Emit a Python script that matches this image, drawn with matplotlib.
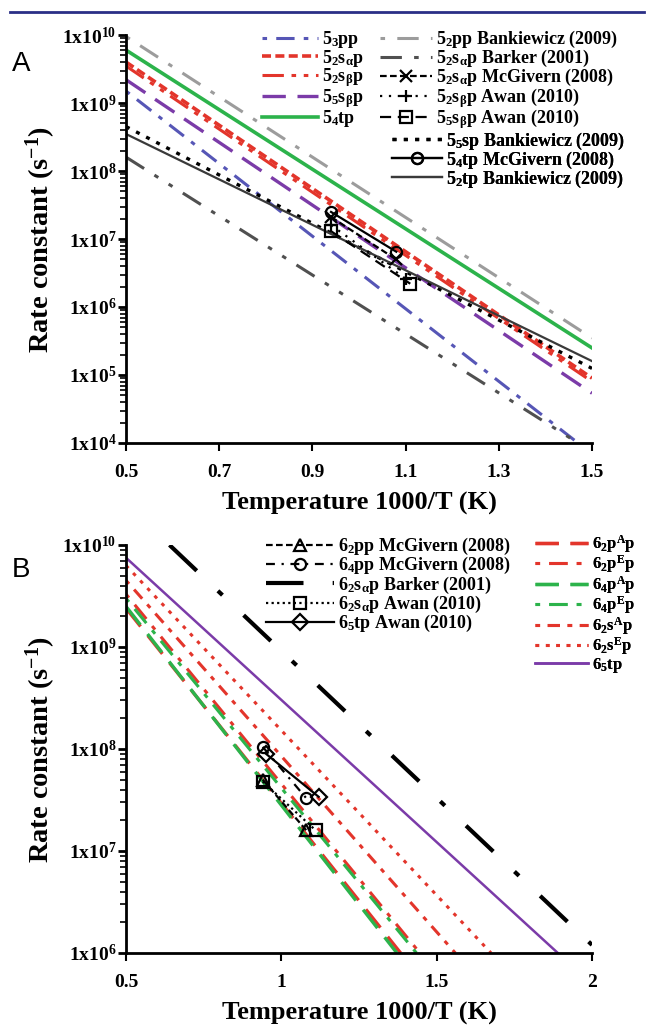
import matplotlib
matplotlib.use("Agg")
import matplotlib.pyplot as plt
from matplotlib.lines import Line2D
from matplotlib.ticker import LogLocator, FuncFormatter, NullFormatter
import numpy as np

plt.rcParams['font.family'] = ['Liberation Serif', 'DejaVu Serif']
plt.rcParams['font.weight'] = 'bold'
plt.rcParams['mathtext.fontset'] = 'custom'
plt.rcParams['mathtext.rm'] = 'Liberation Serif:bold'
plt.rcParams['mathtext.it'] = 'Liberation Serif:bold:italic'
plt.rcParams['mathtext.bf'] = 'Liberation Serif:bold'
plt.rcParams['mathtext.default'] = 'rm'

# ---- panel A : theory lines (x = 1000/T, k in s^-1), endpoints
a_lines = {
    '5$_3$pp':            ([0.5, 1.47], [1.5e9, 1e4]),
    '5$_2$s$_\\alpha$p':   ([0.5, 1.5], [4.0e9, 9.0e4]),
    '5$_2$s$_\\beta$p':    ([0.5, 1.5], [3.5e9, 8.0e4]),
    '5$_5$s$_\\beta$p':    ([0.5, 1.5], [2.2e9, 5.4e4]),
    '5$_4$tp':             ([0.5, 1.5], [6.0e9, 2.5e5]),
}
a_lit_lines = {
    '5$_2$pp Bankiewicz (2009)':         ([0.5, 1.5], [9.5e9, 3.5e5]),
    '5$_2$s$_\\alpha$p Barker (2001)':    ([0.5, 1.47], [1.6e8, 1e4]),
    '5$_5$sp Bankiewicz (2009)':          ([0.5, 1.5], [4.5e8, 1.25e5]),
    '5$_2$tp Bankiewicz (2009)':          ([0.5, 1.5], [3.5e8, 1.6e5]),
}
a_points = {
    '5$_2$s$_\\alpha$p McGivern (2008)': ([0.94, 1.08], [2.1e7, 5.0e6]),
    '5$_2$s$_\\beta$p Awan (2010)':      ([0.94, 1.10], [1.6e7, 2.6e6]),
    '5$_5$s$_\\beta$p Awan (2010)':      ([0.94, 1.11], [1.3e7, 2.2e6]),
    '5$_4$tp McGivern (2008)':           ([0.94, 1.08], [2.5e7, 6.5e6]),
}

# ---- panel B
b_lines = {
    '6$_2$p$^A$p': ([0.5, 1.384], [2.4e9, 1e6]),
    '6$_2$p$^E$p': ([0.5, 1.446], [3.3e9, 1e6]),
    '6$_4$p$^A$p': ([0.5, 1.372], [2.5e9, 1e6]),
    '6$_4$p$^E$p': ([0.5, 1.435], [3.0e9, 1e6]),
    '6$_2$s$^A$p': ([0.5, 1.56], [4.5e9, 1e6]),
    '6$_2$s$^E$p': ([0.5, 1.675], [6.3e9, 1e6]),
    '6$_5$tp':     ([0.5, 1.89], [7.5e9, 1e6]),
}
b_barker = ([0.64, 2.0], [1e10, 1.2e6])
b_points = {
    '6$_2$pp McGivern (2008)':       ([0.94, 1.08], [5.0e7, 1.6e7]),
    '6$_4$pp McGivern (2008)':       ([0.94, 1.08], [1.05e8, 3.3e7]),
    '6$_2$s$_\\alpha$p Awan (2010)':  ([0.94, 1.11], [4.8e7, 1.6e7]),
    '6$_5$tp Awan (2010)':           ([0.95, 1.12], [9.0e7, 3.4e7]),
}

RED = '#e3352b'
GREEN = '#2cb34b'
PURPLE = '#7b3ba8'
BLUE = '#5656b6'

a_styles = {
    '5$_3$pp':          dict(color=BLUE, lw=2.2, dashes=(1.5, 3, 6, 3)),
    '5$_2$s$_\\alpha$p': dict(color=RED, lw=2.6, dashes=(2.5, 1.2)),
    '5$_2$s$_\\beta$p':  dict(color=RED, lw=2.2, dashes=(7, 2.5, 1.5, 2.5, 1.5, 2.5)),
    '5$_5$s$_\\beta$p':  dict(color=PURPLE, lw=2.4, dashes=(7, 3.5)),
    '5$_4$tp':           dict(color=GREEN, lw=2.6),
}
a_lit_styles = {
    '5$_2$pp Bankiewicz (2009)':      dict(color='#9c9c9c', lw=2.2, dashes=(1.5, 4, 7, 4)),
    '5$_2$s$_\\alpha$p Barker (2001)': dict(color='#505050', lw=2.2, dashes=(7, 4, 1.5, 4, 1.5, 4)),
    '5$_5$sp Bankiewicz (2009)':       dict(color='black', lw=2.4, dashes=(1.2, 2.2)),
    '5$_2$tp Bankiewicz (2009)':       dict(color='#3a3a3a', lw=1.6),
}
a_point_styles = {
    '5$_2$s$_\\alpha$p McGivern (2008)': dict(marker='x', ls=(0, (3, 1.5))),
    '5$_2$s$_\\beta$p Awan (2010)':      dict(marker='+', ls=(0, (1, 3))),
    '5$_5$s$_\\beta$p Awan (2010)':      dict(marker='s', ls=(0, (5, 3))),
    '5$_4$tp McGivern (2008)':           dict(marker='o', ls='-'),
}
b_styles = {
    '6$_2$p$^A$p': dict(color=RED, lw=2.4, dashes=(7, 3.5)),
    '6$_2$p$^E$p': dict(color=RED, lw=2.2, dashes=(1.5, 3, 6, 3)),
    '6$_4$p$^A$p': dict(color=GREEN, lw=2.4, dashes=(7, 3.5)),
    '6$_4$p$^E$p': dict(color=GREEN, lw=2.2, dashes=(1.5, 3, 6, 3)),
    '6$_2$s$^A$p': dict(color=RED, lw=2.2, dashes=(1.5, 2.5, 4, 2.5)),
    '6$_2$s$^E$p': dict(color=RED, lw=2.2, dashes=(1.2, 2.2)),
    '6$_5$tp':     dict(color=PURPLE, lw=1.8),
}
b_point_styles = {
    '6$_2$pp McGivern (2008)':      dict(marker='^', ls=(0, (3, 1.5))),
    '6$_4$pp McGivern (2008)':      dict(marker='o', ls=(0, (4, 3, 1, 3))),
    '6$_2$s$_\\alpha$p Awan (2010)': dict(marker='s', ls=(0, (1, 1.5))),
    '6$_5$tp Awan (2010)':          dict(marker='D', ls='-'),
}

fig = plt.figure(figsize=(6.54, 10.35), dpi=100)
W, H = 654, 1035


def px_axes(left, top, right, bottom):
    return fig.add_axes([left / W, 1 - bottom / H, (right - left) / W, (bottom - top) / H])


def style_axes(ax, ymin, ymax, xticks, xlabels):
    ax.set_yscale('log')
    ax.set_ylim(ymin, ymax)
    ax.set_xlim(xticks[0], xticks[-1])
    for s in ['top', 'right']:
        ax.spines[s].set_visible(False)
    for s in ['left', 'bottom']:
        ax.spines[s].set_linewidth(2)
    ax.set_xticks(xticks)
    ax.set_xticklabels(xlabels)
    ax.yaxis.set_major_locator(LogLocator(base=10, numticks=20))
    ax.yaxis.set_minor_locator(LogLocator(base=10, subs=np.arange(2, 10), numticks=20))
    ax.yaxis.set_major_formatter(FuncFormatter(lambda v, p: '1x10$^{%d}$' % int(round(np.log10(v)))))
    ax.yaxis.set_minor_formatter(NullFormatter())
    ax.tick_params(axis='y', which='major', length=6, width=2, labelsize=14, pad=1)
    ax.tick_params(axis='y', which='minor', length=4, width=1.2)
    ax.tick_params(axis='x', which='major', length=6, width=1.5, labelsize=14, pad=9)
    ax.set_ylabel('Rate constant (s$^{-1}$)', fontsize=20.5, fontweight='bold', labelpad=3)
    ax.set_xlabel('Temperature 1000/T (K)', fontsize=19, fontweight='bold', labelpad=8)


def leg(ax, handles, labels, x, y, hl, ls, fs=13):
    lg = ax.legend(handles, labels, loc='upper left', bbox_to_anchor=(x, y),
                   frameon=False, fontsize=fs, borderpad=0, borderaxespad=0,
                   handletextpad=0.2, labelspacing=ls, handlelength=hl)
    ax.add_artist(lg)
    return lg


# ================= panel A =================
axA = px_axes(126, 35, 592, 443)
style_axes(axA, 1e4, 1e10, [0.5, 0.7, 0.9, 1.1, 1.3, 1.5], ['0.5', '0.7', '0.9', '1.1', '1.3', '1.5'])

hA1 = []
for name, (xs, ys) in a_lines.items():
    l, = axA.plot(xs, ys, **a_styles[name])
    hA1.append(l)
hA2 = {}
for name, (xs, ys) in a_lit_lines.items():
    l, = axA.plot(xs, ys, **a_lit_styles[name])
    hA2[name] = l
for name, (xs, ys) in a_points.items():
    st = a_point_styles[name]
    l, = axA.plot(xs, ys, color='black', lw=1.6, ls=st['ls'], marker=st['marker'], ms=8,
                  mfc='none', mec='black', mew=1.6)
    hA2[name] = l

leg(axA, hA1, list(a_lines.keys()), 0.292, 1.015, 3.1, -0.12)
order2 = ['5$_2$pp Bankiewicz (2009)', '5$_2$s$_\\alpha$p Barker (2001)',
          '5$_2$s$_\\alpha$p McGivern (2008)', '5$_2$s$_\\beta$p Awan (2010)',
          '5$_5$s$_\\beta$p Awan (2010)']
leg(axA, [hA2[k] for k in order2], order2, 0.545, 1.015, 2.9, -0.12)
order3 = ['5$_5$sp Bankiewicz (2009)', '5$_4$tp McGivern (2008)', '5$_2$tp Bankiewicz (2009)']
leg(axA, [hA2[k] for k in order3], order3, 0.57, 0.766, 2.8, -0.12)

# ================= panel B =================
axB = px_axes(126, 545, 592, 953)
style_axes(axB, 1e6, 1e10, [0.5, 1.0, 1.5, 2.0], ['0.5', '1', '1.5', '2'])

hB2 = []
for name, (xs, ys) in b_lines.items():
    l, = axB.plot(xs, ys, **b_styles[name])
    hB2.append(l)
lb, = axB.plot(b_barker[0], b_barker[1], color='black', lw=3, dashes=(9, 7, 1.5, 7))
hB1 = []
for name, (xs, ys) in b_points.items():
    st = b_point_styles[name]
    l, = axB.plot(xs, ys, color='black', lw=1.6, ls=st['ls'], marker=st['marker'], ms=8,
                  mfc='none', mec='black', mew=1.6)
    hB1.append(l)
namesB1 = list(b_points.keys())
hB1.insert(2, lb)
namesB1.insert(2, '6$_2$s$_\\alpha$p Barker (2001)')
leg(axB, hB1, namesB1, 0.30, 1.022, 3.8, -0.1)
leg(axB, hB2, list(b_lines.keys()), 0.878, 1.03, 3.2, -0.08, fs=12)

# header rule and panel letters
fig.add_artist(Line2D([0.015, 0.985], [1 - 12 / H, 1 - 12 / H], transform=fig.transFigure,
                      color='#2a2f86', lw=2))
fig.text(12 / W, 1 - 64 / H, 'A', fontsize=20, family='Liberation Sans', fontweight='normal',
         va='center', ha='left')
fig.text(12 / W, 1 - 570 / H, 'B', fontsize=20, family='Liberation Sans', fontweight='normal',
         va='center', ha='left')

fig.savefig('out.png', dpi=100)
